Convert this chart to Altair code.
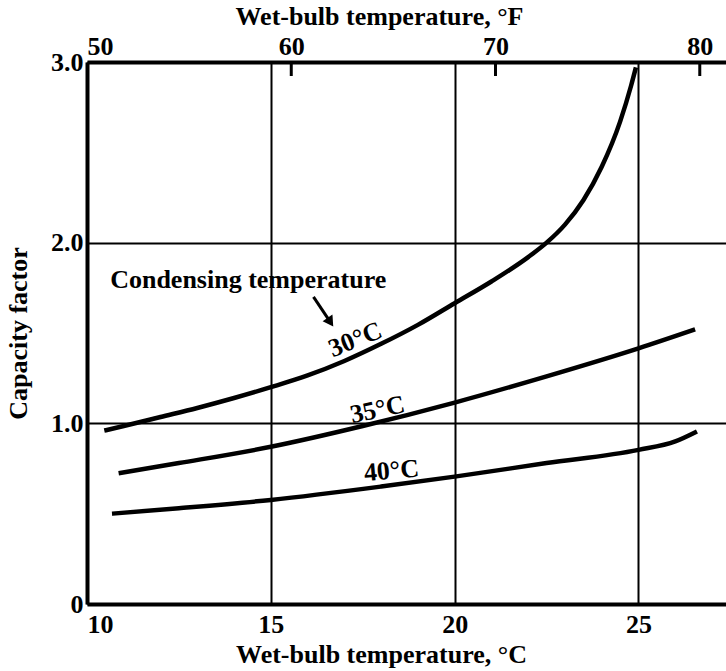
import altair as alt
import pandas as pd

# ---- data ----
c30_x = [10.47, 11.0, 12.0, 13.0, 14.0, 15.0, 16.0, 17.0, 18.0, 19.0, 20.0, 21.0, 22.0, 22.5, 23.0, 23.5, 24.0, 24.5, 24.8, 24.93]
c30_y = [0.96, 0.985, 1.035, 1.085, 1.14, 1.20, 1.265, 1.345, 1.44, 1.545, 1.665, 1.785, 1.92, 2.0, 2.10, 2.235, 2.42, 2.67, 2.87, 2.97]

c35_x = [10.86, 12.5, 15.0, 17.5, 20.0, 22.5, 25.0, 26.54]
c35_y = [0.724, 0.78, 0.87, 0.985, 1.115, 1.26, 1.415, 1.52]

c40_x = [10.68, 12.5, 15.0, 18.0, 20.0, 22.5, 25.0, 26.0, 26.59]
c40_y = [0.50, 0.53, 0.576, 0.65, 0.705, 0.78, 0.853, 0.90, 0.955]

curve_names = ["30°C", "35°C", "40°C"]
label_x = [17.30, 17.90, 18.28]
label_y = [1.463, 1.075, 0.737]
label_angle = [338, 348, 355]

x_ticks_c = [10, 15, 20, 25]
y_ticks = [0, 1, 2, 3]
f_ticks = [50, 60, 70, 80]

note_text = ["Condensing temperature"]
note_x = [10.63]
note_y = [1.795]
arrow_x = [16.16, 16.62]
arrow_y = [1.70, 1.56]

FONT = "Liberation Serif"
FS = 26
FW = "bold"

rows = []
for name, xs, ys in zip(curve_names, [c30_x, c35_x, c40_x], [c30_y, c35_y, c40_y]):
    for i, (a, b) in enumerate(zip(xs, ys)):
        rows.append({"curve": name, "t": a, "cf": b, "order": i})
curves_df = pd.DataFrame(rows)

labels_df = pd.DataFrame({"name": curve_names, "t": label_x, "cf": label_y, "ang": label_angle})
note_df = pd.DataFrame({"text": note_text, "t": note_x, "cf": note_y})
arrow_df = pd.DataFrame({"t": arrow_x, "cf": arrow_y, "order": [0, 1]})
head_df = pd.DataFrame({"t": [arrow_x[-1]], "cf": [arrow_y[-1]]})
f_to_c = [(f - 32) * 5 / 9 for f in f_ticks]
ftick_df = pd.DataFrame({"t": f_to_c[1:]})
ftop_df = pd.DataFrame({"t": f_to_c})

xscale = alt.Scale(domain=[10, 27.38], nice=False, zero=False)
yscale = alt.Scale(domain=[0, 3], nice=False)

x_bottom = alt.X(
    "t:Q", scale=xscale,
    axis=alt.Axis(
        orient="bottom", values=x_ticks_c, format="d",
        title="Wet-bulb temperature, °C",
        grid=True, gridColor="black", gridWidth=2, gridOpacity=1,
        ticks=False, domainColor="black", domainWidth=4,
        labelFont=FONT, labelFontSize=FS, labelFontWeight=FW, labelColor="black", labelPadding=7,
        labelFlush=True,
        titleFont=FONT, titleFontSize=FS, titleFontWeight=FW, titleColor="black",
        titleX=294, titleY=37, titleAlign="center", titleBaseline="top",
    ),
)

y_axis = alt.Y(
    "cf:Q", scale=yscale,
    axis=alt.Axis(
        values=y_ticks, labelExpr="datum.value == 0 ? '0' : format(datum.value, '.1f')",
        title="Capacity factor",
        grid=True, gridColor="black", gridWidth=2, gridOpacity=1,
        ticks=False, domainColor="black", domainWidth=4,
        labelFont=FONT, labelFontSize=FS, labelFontWeight=FW, labelColor="black", labelPadding=4,
        titleFont=FONT, titleFontSize=FS, titleFontWeight=FW, titleColor="black",
        titleAngle=270, titleX=-69, titleY=271, titleAlign="center", titleBaseline="middle",
    ),
)

xs_noaxis = alt.X("t:Q", scale=xscale, axis=None)
ys_plain = alt.Y("cf:Q", scale=yscale)

lines = alt.Chart(curves_df).mark_line(
    color="black", strokeWidth=4.5, interpolate="monotone"
).encode(x=x_bottom, y=y_axis, detail="curve:N", order="order:Q")

labels = alt.Chart(labels_df).mark_text(
    font=FONT, fontSize=FS, fontWeight=FW, color="black", align="center", baseline="middle"
).encode(
    x=xs_noaxis, y=ys_plain,
    text="name:N", angle=alt.Angle("ang:Q", scale=None),
)

note = alt.Chart(note_df).mark_text(
    font=FONT, fontSize=FS, fontWeight=FW, color="black", align="left", baseline="middle"
).encode(x=xs_noaxis, y=ys_plain, text="text:N")

arrow = alt.Chart(arrow_df).mark_line(color="black", strokeWidth=3).encode(
    x=xs_noaxis, y=ys_plain, order="order:Q"
)
head = alt.Chart(head_df).mark_point(
    shape="triangle-down", filled=True, color="black", size=140, angle=326, opacity=1
).encode(x=xs_noaxis, y=ys_plain)

top_axis = alt.Chart(ftop_df).mark_point(opacity=0).encode(
    x=alt.X(
        "t:Q", scale=xscale,
        axis=alt.Axis(
            orient="top", values=f_to_c,
            labelExpr="format(round(datum.value * 9 / 5 + 32), 'd')",
            title="Wet-bulb temperature, °F",
            grid=False, ticks=False, domainColor="black", domainWidth=4,
            labelFont=FONT, labelFontSize=FS, labelFontWeight=FW, labelColor="black", labelPadding=3,
            labelFlush=True,
            titleFont=FONT, titleFontSize=FS, titleFontWeight=FW, titleColor="black",
            titleX=292, titleY=-33, titleAlign="center", titleBaseline="bottom",
        ),
    ),
    y=alt.value(0),
)

top_ticks = alt.Chart(ftick_df).mark_rule(color="black", strokeWidth=3).encode(
    x=xs_noaxis, y=alt.value(0), y2=alt.value(14)
)

chart = alt.layer(lines, labels, note, arrow, head, top_ticks, top_axis).resolve_axis(
    x="independent"
).properties(
    width=639, height=542,
    autosize=alt.AutoSizeParams(type="none"),
    padding={"left": 87, "top": 62, "right": 0, "bottom": 67},
    background="white",
).configure_view(stroke=None)

chart.save("out.html", embed_options={"renderer": "svg", "actions": False})
